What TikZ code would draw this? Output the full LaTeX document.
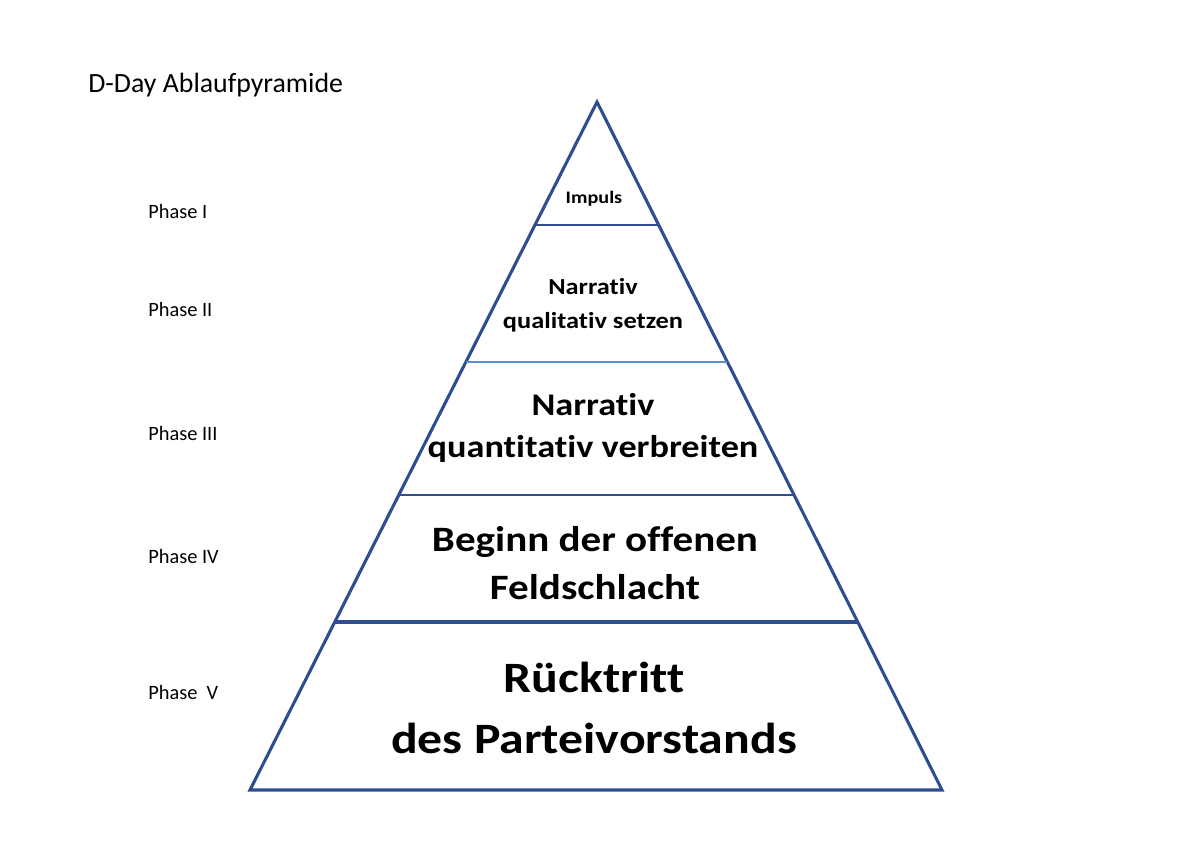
\documentclass[tikz,border=0pt]{standalone}
\usepackage{fontspec}
\setmainfont{Carlito}
\newfontfamily\pyrfont[FakeStretch=1.15,Ligatures=NoCommon]{Carlito}
\usetikzlibrary{calc}
\definecolor{pyrblue}{HTML}{2F4E8E}
\definecolor{pyrlight}{HTML}{5E8FC9}
\tikzset{
  edge line/.style={draw=pyrblue, line width=2.2pt, line join=miter},
  level line/.style={draw=pyrblue, line width=2pt},
  phase/.style={anchor=west, inner sep=0pt, font=\fontsize{14.5}{16}\selectfont},
  layer/.style={align=center, inner sep=0pt},
}
\begin{document}
\begin{tikzpicture}[x=0.025cm, y=-0.025cm]
    \useasboundingbox[fill=white] (0,0) rectangle (1200,847);

    % Corners of the pyramid
    \coordinate (apex) at (597,102);
    \coordinate (bl) at (250,790);
    \coordinate (br) at (942,790);

    % Draw the outline
    \draw[edge line] (apex) -- (bl) -- (br) -- cycle;

    % Draw the level lines
    \foreach \name / \y in {1/225,2/362,3/495,4/622}{
        \coordinate (L-\name) at ($(apex)!{(\y-102)/688}!(bl)$);
        \coordinate (R-\name) at ($(apex)!{(\y-102)/688}!(br)$);
    }
    \draw[level line] (L-1) -- (R-1);
    \draw[level line, draw=pyrlight] (L-2) -- (R-2);
    \draw[level line] (L-3) -- (R-3);
    \draw[level line, line width=3pt] (L-4) -- (R-4);

    % Texts inside the layers
    \node[layer, font=\pyrfont\bfseries\fontsize{12.5}{14}\selectfont] (impuls) at (594,199) {Impuls};
    \node[layer, font=\pyrfont\bfseries\fontsize{16.3}{24}\selectfont] (setzen) at (593,305) {Narrativ\\qualitativ setzen};
    \node[layer, font=\pyrfont\bfseries\fontsize{22.4}{30}\selectfont] (verbreiten) at (593,428) {Narrativ\\quantitativ verbreiten};
    \node[layer, font=\pyrfont\bfseries\fontsize{25.4}{34}\selectfont] (feld) at (595,563) {Beginn der offenen\\Feldschlacht};
    \node[layer, font=\pyrfont\bfseries\fontsize{30.8}{43}\selectfont] (ruecktritt) at (594,708) {Rücktritt\\des Parteivorstands};

    % Annotate the phases
    \foreach \name / \y / \lab in {1/211/Phase I,2/309/Phase II,3/433/Phase III,4/556/Phase IV,5/692/Phase\ \ V}
        \node[phase] (P-\name) at (148,\y) {\lab};

    % Title
    \node[anchor=west, inner sep=0pt, font=\fontsize{19.8}{21}\selectfont] (title) at (88,85) {D-Day Ablaufpyramide};
\end{tikzpicture}
\end{document}
